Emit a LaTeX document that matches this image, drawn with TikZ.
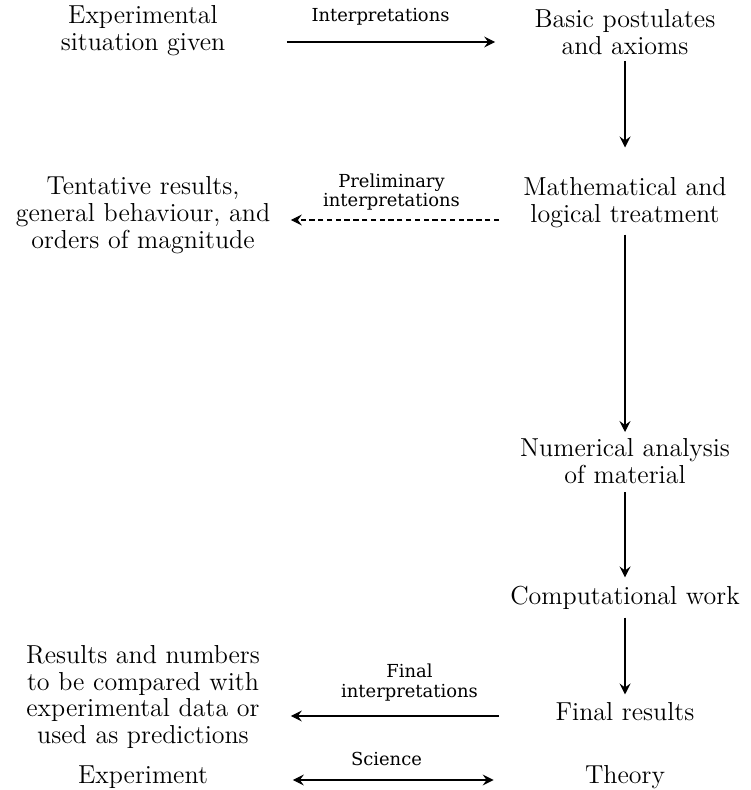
\documentclass[tikz,border=0pt]{standalone}
\usepackage{fontspec}
\usepackage{tikz}
\usetikzlibrary{
    arrows.meta,
    positioning
}
\newfontfamily\labfont{DejaVu Serif}

\begin{document}
\begin{tikzpicture}[
    >={Stealth[length=2.2mm,width=2.2mm,inset=0.8mm]},
    every path/.style={line width=0.6pt},
    lside/.style={align=center, text width=5.2cm, font=\fontsize{14.8}{15.3}\selectfont},
    rside/.style={align=center, text width=5cm, font=\fontsize{14.8}{15.3}\selectfont},
    lab/.style={align=center, font=\labfont\fontsize{10.2}{11.3}\selectfont, inner sep=2pt}
]
    \useasboundingbox (0,0) rectangle (15,-15.8);

    % theory side
    \node[rside] (basic) at (12.5,-0.64)  {Basic postulates\\and axioms};
    \node[rside] (math)  at (12.5,-4.06)  {Mathematical and\\logical treatment};
    \node[rside] (num)   at (12.5,-9.22)  {Numerical analysis\\of material};
    \node[rside] (comp)  at (12.5,-11.96) {Computational work};
    \node[rside] (fin)   at (12.5,-14.24) {Final results};
    \node[rside] (theo)  at (12.5,-15.54) {Theory};

    % experiment side
    \node[lside] (exp)  at (2.86,-0.62)  {Experimental\\situation given};
    \node[lside] (tent) at (2.86,-4.30)  {Tentative results,\\general behaviour, and\\orders of magnitude};
    \node[lside] (res)  at (2.86,-13.94) {Results and numbers\\to be compared with\\experimental data or\\used as predictions};
    \node[lside] (expm) at (2.86,-15.54) {Experiment};

    \draw[->, shorten >=0.48cm] (basic.south) -- (math.north);
    \draw[->] (math.south) -- (num.north);
    \draw[->, shorten <=0.05cm, shorten >=0.05cm] (num.south) -- (comp.north);
    \draw[->, shorten <=0.03cm, shorten >=0.04cm] (comp.south) -- (fin.north);

    \draw[->, shorten <=0.15cm, shorten >=-0.03cm]
        ([yshift=-0.22cm]exp.east) -- ([yshift=-0.22cm]exp.east -| basic.west)
        node[lab, midway, above=7.5pt, xshift=-0.12cm] {Interpretations};
    \draw[->, dash pattern=on 3pt off 2pt, shorten <=-0.11cm, shorten >=0.23cm]
        ([yshift=-0.34cm]math.west) -- ([yshift=-0.34cm]math.west -| tent.east)
        node[lab, midway, above=3pt, xshift=0.1cm] {Preliminary\\interpretations};
    \draw[->, shorten <=-0.11cm, shorten >=0.23cm]
        ([yshift=-0.08cm]fin.west) -- ([yshift=-0.08cm]fin.west -| res.east)
        node[lab, midway, above=6pt, xshift=0.46cm] {Final\\interpretations};
    \draw[<->, shorten <=0.27cm]
        ([yshift=-0.06cm]expm.east) -- ([yshift=-0.06cm]expm.east -| theo.west)
        node[lab, midway, above=6pt] {Science};
\end{tikzpicture}
\end{document}
